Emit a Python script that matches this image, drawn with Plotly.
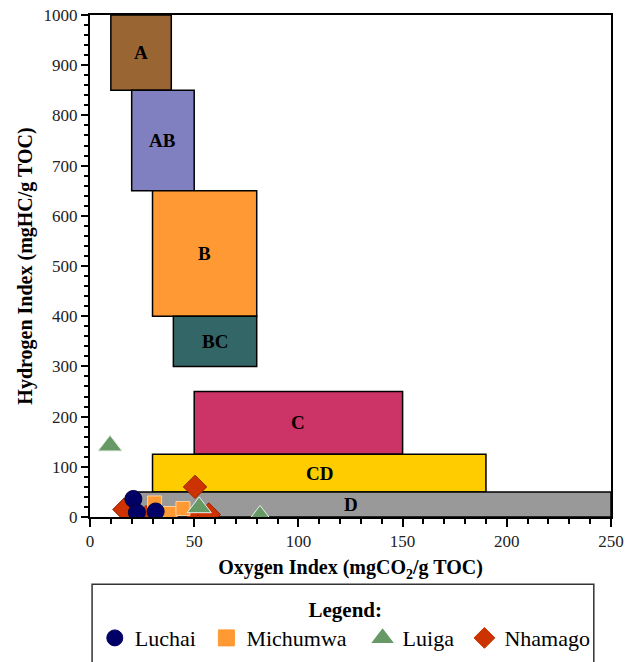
import plotly.graph_objects as go

# Organofacies fields (Oxygen Index range, Hydrogen Index range)
facies = ["A", "AB", "B", "BC", "C", "CD", "D"]
facies_oi_min = [10, 20, 30, 40, 50, 30, 23]
facies_oi_max = [39, 50, 80, 80, 150, 190, 250]
facies_hi_min = [850, 650, 400, 300, 125, 50, 0]
facies_hi_max = [1000, 850, 650, 400, 250, 125, 50]
facies_label_oi = [24.5, 35, 55, 60, 100, 110, 125]
facies_label_hi = [925, 750, 525, 350, 187.5, 87.5, 25]

# Samples
luchai_oi = [20.8, 22.5, 31.5]
luchai_hi = [36, 9, 11]
michumwa_oi = [31, 38.4, 44.6]
michumwa_hi = [28, 7, 17]
luiga_oi = [9.6, 52.4, 81.6]
luiga_hi = [142, 19, 2]
nhamago_oi = [50.4, 52, 57, 16.5, 27]
nhamago_hi = [60, 2, 5, 15, 0]

series_names = ["Luchai", "Michumwa", "Luiga", "Nhamago"]

facies_colors = ["#996633", "#8080C0", "#FF9933", "#336666", "#CC3366", "#FFCC00", "#999999"]
FONT = "Liberation Serif, Times New Roman, serif"
NB = "\u00a0"

fig = go.Figure()

# data traces (draw order: diamonds at the back, circles at the front)
fig.add_trace(go.Scatter(
    x=nhamago_oi, y=nhamago_hi, mode="markers", name="Nhamago", showlegend=False,
    marker=dict(symbol="diamond", size=18, color="#CC3300", line=dict(color="#992200", width=1)),
))
fig.add_trace(go.Scatter(
    x=michumwa_oi, y=michumwa_hi, mode="markers", name="Michumwa", showlegend=False,
    marker=dict(symbol="square", size=14, color="#FF9933", line=dict(color="#FFD0A0", width=1)),
))
fig.add_trace(go.Scatter(
    x=luiga_oi, y=luiga_hi, mode="markers", name="Luiga", showlegend=False,
    marker=dict(symbol="triangle-up", size=21, color="#669966", line=dict(color="#E8F0E8", width=1)),
))
fig.add_trace(go.Scatter(
    x=luchai_oi, y=luchai_hi, mode="markers", name="Luchai", showlegend=False,
    marker=dict(symbol="circle", size=17, color="#000066", line=dict(color="#000044", width=1)),
))

# legend entries
legend_style = [
    ("circle", "#000066", 1, NB),
    ("square", "#FF9933", 1, NB * 2),
    ("triangle-up", "#669966", 2, NB),
    ("diamond", "#CC3300", 1, ""),
]
for nm, (sym, col, lw, pad) in zip(series_names, legend_style):
    fig.add_trace(go.Scatter(
        x=[None], y=[None], mode="markers", name=nm + pad, showlegend=True,
        marker=dict(symbol=sym, size=16, color=col, line=dict(color=col, width=lw)),
    ))

shapes = []
annotations = []
for name, x0, x1, y0, y1, c, lx, ly in zip(facies, facies_oi_min, facies_oi_max, facies_hi_min,
                                           facies_hi_max, facies_colors, facies_label_oi, facies_label_hi):
    shapes.append(dict(type="rect", xref="x", yref="y", x0=x0, x1=x1, y0=y0, y1=y1,
                       fillcolor=c, line=dict(color="black", width=1.5), layer="below"))
    annotations.append(dict(x=lx, y=ly, xref="x", yref="y", text=name, showarrow=False,
                            font=dict(family=FONT, size=19, color="black", weight="bold")))

# legend frame
shapes.append(dict(type="rect", xref="paper", yref="paper", x0=0.004, x1=0.967, y0=-0.31, y1=-0.134,
                   line=dict(color="#333333", width=1.5), fillcolor="rgba(0,0,0,0)"))

fig.update_layout(
    width=636, height=662,
    margin=dict(l=90, r=25, t=15, b=145, autoexpand=False),
    paper_bgcolor="white", plot_bgcolor="white",
    shapes=shapes, annotations=annotations,
    showlegend=True,
    legend=dict(
        orientation="h", x=0.49, xanchor="center", y=-0.145, yanchor="top",
        title=dict(text="Legend:", side="top center",
                   font=dict(family=FONT, size=21, color="black", weight="bold")),
        font=dict(family=FONT, size=22, color="black"),
        bgcolor="rgba(0,0,0,0)", borderwidth=0,
    ),
    xaxis=dict(
        range=[0, 250], dtick=50, showgrid=False, zeroline=False, automargin=False,
        showline=True, linecolor="black", linewidth=2, mirror=True,
        ticks="outside", ticklen=8, tickwidth=2, tickcolor="black",
        minor=dict(dtick=10, ticks="outside", ticklen=5, tickwidth=2, tickcolor="black", showgrid=False),
        tickfont=dict(family=FONT, size=17, color="#222222"),
        title=dict(text="Oxygen Index (mgCO<sub>2</sub>/g TOC)", standoff=10,
                   font=dict(family=FONT, size=20, color="black", weight="bold")),
    ),
    yaxis=dict(
        range=[0, 1000], dtick=100, showgrid=False, zeroline=False, automargin=False,
        showline=True, linecolor="black", linewidth=2, mirror=True,
        ticks="outside", ticklen=7, tickwidth=2, tickcolor="black",
        minor=dict(dtick=20, ticks="outside", ticklen=4, tickwidth=2, tickcolor="black", showgrid=False),
        tickfont=dict(family=FONT, size=17, color="#222222"),
        title=dict(text="Hydrogen Index (mgHC/g TOC)", standoff=6,
                   font=dict(family=FONT, size=20, color="black", weight="bold")),
    ),
)

fig.write_html("out.html")
